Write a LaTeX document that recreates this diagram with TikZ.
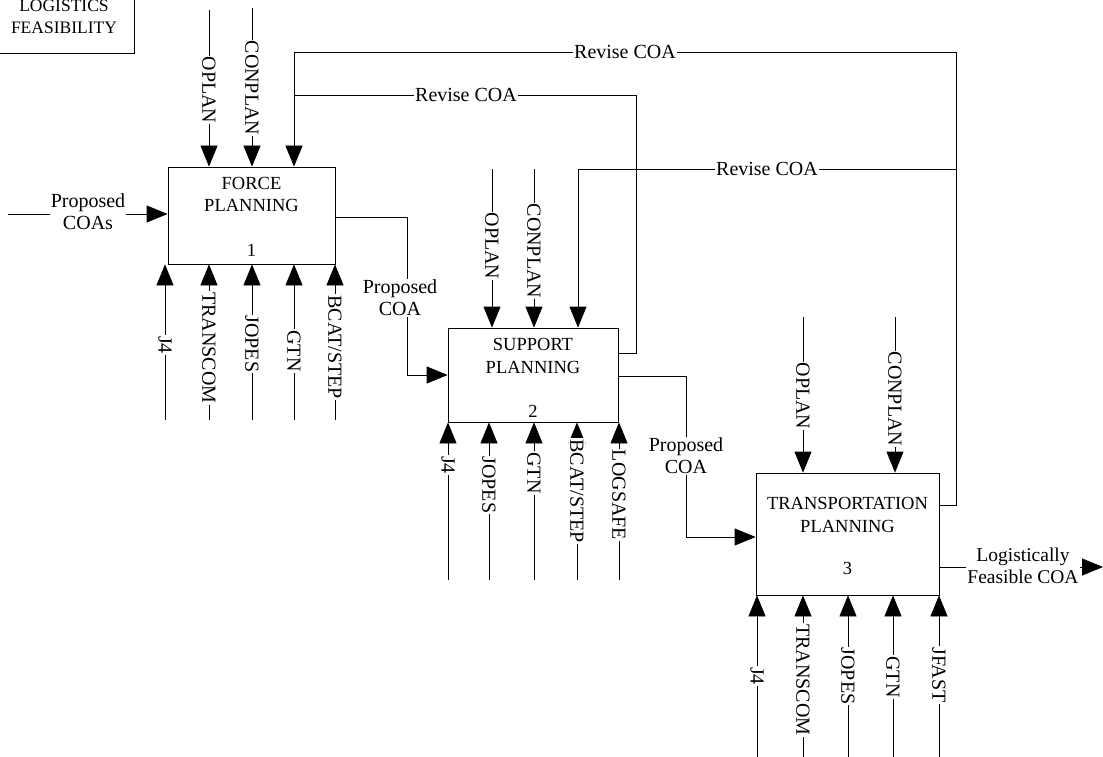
\documentclass[tikz,border=0pt]{standalone}
\usepackage{fontspec}
\setmainfont{Liberation Serif}
\usetikzlibrary{arrows.meta}
\begin{document}
\begin{tikzpicture}[x=1pt,y=-1pt,line width=0.8pt,
  arr/.style={-{Triangle[length=21pt,width=17pt]}},
  lbl/.style={fill=white,inner sep=1pt,font=\fontsize{20}{22}\selectfont,align=center},
  vlbl/.style={lbl,rotate=-90},
  boxtxt/.style={inner sep=0pt,font=\fontsize{18.5}{22.5}\selectfont,align=center},
  actbox/.style={draw,inner sep=0pt}]
\useasboundingbox (0,0) rectangle (1103,757);
\fill[white] (0,0) rectangle (1103,757);

% title box (cut at top)
\node[draw,minimum width=136pt,minimum height=80pt,inner sep=0pt] (tb) at (66,13) {};
\node[boxtxt,font=\fontsize{17.5}{22}\selectfont] (tbt) at (64,17) {LOGISTICS\\FEASIBILITY};

% activity boxes
\node[actbox,minimum width=167pt,minimum height=97pt] (b1) at (251.5,215.5) {};
\node[boxtxt] (b1t) at (251.5,194.5) {FORCE\\PLANNING};
\node[boxtxt] (b1n) at (251.5,250) {1};
\node[actbox,minimum width=170pt,minimum height=94pt] (b2) at (533,375) {};
\node[boxtxt] (b2t) at (533,356) {SUPPORT\\PLANNING};
\node[boxtxt] (b2n) at (533,411) {2};
\node[actbox,minimum width=183pt,minimum height=122pt] (b3) at (847.5,534) {};
\node[boxtxt] (b3t) at (847.5,515) {TRANSPORTATION\\PLANNING};
\node[boxtxt] (b3n) at (847.5,568) {3};

% controls box 1
\coordinate (c1a) at (209,10);
\coordinate (c1b) at (252,8);
\draw[arr] (c1a) -- (209,0 |- b1.north);
\draw[arr] (c1b) -- (252,0 |- b1.north);
\node[vlbl] (l1a) at (209,90) {OPLAN};
\node[vlbl] (l1b) at (252,88) {CONPLAN};

% mechanisms box 1
\foreach \x/\yc/\n/\t in {165/345/a/J4,209/348/b/TRANSCOM,252/344/c/JOPES,294/351/d/GTN,335/347/e/{BCAT/STEP}}{
  \coordinate (m1\n) at (\x,420);
  \draw[arr] (m1\n) -- (\x,0 |- b1.south);
  \node[vlbl] (ml1\n) at (\x,\yc) {\t};
}

% controls box 2
\coordinate (c2a) at (492,169);
\coordinate (c2b) at (534,169);
\draw[arr] (c2a) -- (492,0 |- b2.north);
\draw[arr] (c2b) -- (534,0 |- b2.north);
\node[vlbl] (l2a) at (492,246) {OPLAN};
\node[vlbl] (l2b) at (534,251) {CONPLAN};

% mechanisms box 2
\foreach \x/\yc/\n/\t in {448/465/a/J4,489/485/b/JOPES,534/473/c/GTN,577/491/d/{BCAT/STEP},619/495/e/LOGSAFE}{
  \coordinate (m2\n) at (\x,580);
  \draw[arr] (m2\n) -- (\x,0 |- b2.south);
  \node[vlbl] (ml2\n) at (\x,\yc) {\t};
}

% controls box 3
\coordinate (c3a) at (803,317);
\coordinate (c3b) at (895,317);
\draw[arr] (c3a) -- (803,0 |- b3.north);
\draw[arr] (c3b) -- (895,0 |- b3.north);
\node[vlbl] (l3a) at (803,396) {OPLAN};
\node[vlbl] (l3b) at (895,399) {CONPLAN};

% mechanisms box 3
\foreach \x/\yc/\n/\t in {757/676/a/J4,803/680/b/TRANSCOM,848/676/c/JOPES,893/677/d/GTN,939/675/e/JFAST}{
  \coordinate (m3\n) at (\x,757);
  \draw[arr] (m3\n) -- (\x,0 |- b3.south);
  \node[vlbl] (ml3\n) at (\x,\yc) {\t};
}

% input
\coordinate (in) at (8,214);
\draw[arr] (in) -- (b1.west |- in);
\node[lbl] (inl) at (88,212) {Proposed\\COAs};

% outputs
\draw[arr] (b1.east |- 0,217) -- (407,217) -- (407,375) -- (b2.west |- 0,375);
\node[lbl] (o1l) at (400,298) {Proposed\\COA};
\draw[arr] (b2.east |- 0,376) -- (686,376) -- (686,537) -- (b3.west |- 0,537);
\node[lbl] (o2l) at (686,456) {Proposed\\COA};
\coordinate (out) at (1103,567);
\draw[arr] (b3.east |- out) -- (out);
\node[lbl,font=\fontsize{19.5}{22}\selectfont] (o3l) at (1023,566) {Logistically\\Feasible COA};

% feedback
\draw[arr] (b3.east |- 0,505) -- (956,505) -- (956,52) -- (294,52) -- (294,0 |- b1.north);
\draw[arr] (956,169) -- (578,169) -- (578,0 |- b2.north);
\draw (b2.east |- 0,353) -- (636,353) -- (636,95) -- (294,95);
\node[lbl] (r1) at (625,52) {Revise COA};
\node[lbl] (r2) at (767,169) {Revise COA};
\node[lbl] (r3) at (466,95) {Revise COA};
\end{tikzpicture}
\end{document}
